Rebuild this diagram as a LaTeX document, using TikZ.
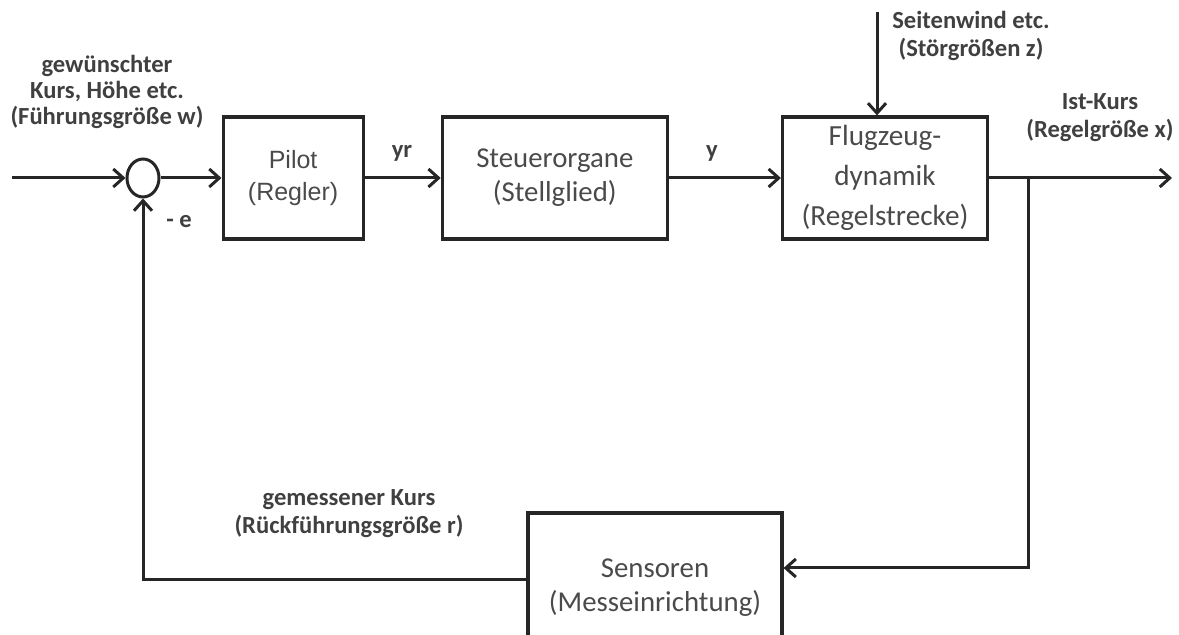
\documentclass[tikz,border=0pt]{standalone}
\usepackage{fontspec}
\setmainfont{Carlito}
\newfontfamily\arialfont{Liberation Sans}
\usepackage{tikz}
\usetikzlibrary{positioning, shapes.geometric, arrows.meta}
\usepackage{xcolor}
\definecolor{linecol}{HTML}{262626}
\definecolor{labelcol}{HTML}{404040}
\definecolor{boxtext}{HTML}{4A4A4A}

\begin{document}
\begin{tikzpicture}[x=0.5pt, y=-0.5pt, line width=1.5pt,
  block/.style={rectangle, draw=linecol, line width=1.6pt, minimum height=61pt, inner sep=2pt, text=boxtext, align=center, font=\fontsize{14.4}{17}\selectfont},
  lbl/.style={text=labelcol, align=center, inner sep=0pt, font=\bfseries\fontsize{12.3}{12.8}\selectfont},
  arr/.style={draw=linecol, -{Straight Barb[length=5pt, width=9pt, line width=1.5pt]}}]
\useasboundingbox (0,0) rectangle (1179,635);
\node[ellipse, draw=linecol, line width=1.5pt, minimum width=16pt, minimum height=19pt, inner sep=0pt] (sum) at (143,178) {};
\node[block, minimum width=70pt, right=30.5pt of sum, font=\arialfont\fontsize{12.5}{16}\selectfont] (pilot) {Pilot\\(Regler)};
\node[block, minimum width=112.5pt, right=38pt of pilot] (stell) {Steuerorgane\\(Stellglied)};
\node[block, minimum width=102.5pt, right=56pt of stell, font=\fontsize{14.6}{20}\selectfont] (strecke) {Flugzeug-\\dynamik\\(Regelstrecke)};
\node[block, minimum width=127pt, minimum height=75pt] (sensor) at (655,588) {Sensoren\\(Messeinrichtung)};
% labels
\node[lbl] (wlbl) at (107,92) {gewünschter\\Kurs, Höhe etc.\\(Führungsgröße w)};
\node[lbl] (elbl) at (179,222) {- e};
\node[lbl] (yrlbl) at (402,153) {yr};
\node[lbl] (ylbl) at (712,153) {y};
\node[lbl, font=\bfseries\fontsize{12.3}{14}\selectfont] (zlbl) at (971,36) {Seitenwind etc.\\(Störgrößen z)};
\node[lbl, font=\bfseries\fontsize{12.3}{14}\selectfont] (xlbl) at (1100,118) {Ist-Kurs\\(Regelgröße x)};
\node[lbl, font=\bfseries\fontsize{12.3}{14}\selectfont] (rlbl) at (349,514) {gemessener Kurs\\(Rückführungsgröße r)};
% free ends
\coordinate (in) at (12,178);
\coordinate (out) at (1172,178);
\coordinate (branch) at (1028,178);
\coordinate (dist) at (877,12);
% connectors
\draw[arr] (in) -- (sum.west);
\draw[arr] (sum.east) -- (pilot.west);
\draw[arr] (pilot.east) -- (stell.west);
\draw[arr] (stell.east) -- (strecke.west);
\draw[arr] (strecke.east) -- (out);
\draw[arr] (dist) -- (dist |- strecke.north);
\draw[arr] (branch) |- ([yshift=10pt]sensor.east);
\draw[arr] ([yshift=4pt]sensor.west) -| (sum.south);
\end{tikzpicture}
\end{document}
